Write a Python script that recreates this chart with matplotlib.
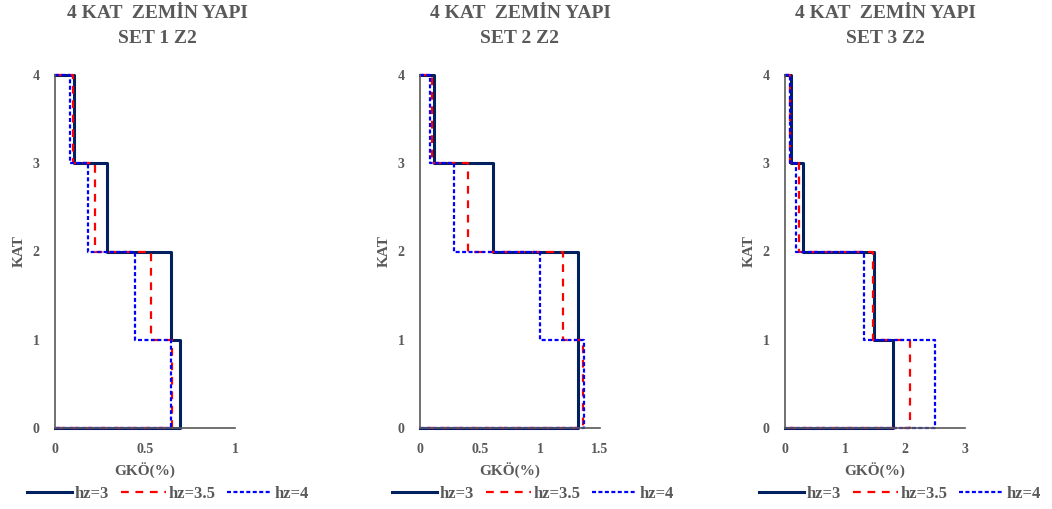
import numpy as np
import matplotlib.pyplot as plt

plt.rcParams['font.family'] = ['Liberation Serif', 'DejaVu Serif']
plt.rcParams['font.weight'] = 'bold'
plt.rcParams['axes.labelweight'] = 'bold'

gray = '#595959'

# story levels (KAT), from top to bottom
kat = [4, 3, 2, 1]

# GKO(%) per story, order: kat 4, 3, 2, 1
set1 = {
    'hz=3':   [0.106, 0.287, 0.644, 0.696],
    'hz=3.5': [0.098, 0.222, 0.531, 0.652],
    'hz=4':   [0.085, 0.185, 0.446, 0.643],
}
set2 = {
    'hz=3':   [0.117, 0.608, 1.319, 1.313],
    'hz=3.5': [0.100, 0.399, 1.193, 1.358],
    'hz=4':   [0.086, 0.287, 1.004, 1.366],
}
set3 = {
    'hz=3':   [0.100, 0.306, 1.483, 1.794],
    'hz=3.5': [0.089, 0.228, 1.461, 2.083],
    'hz=4':   [0.083, 0.183, 1.311, 2.494],
}
sets = [set1, set2, set3]
titles = ['4 KAT  ZEMİN YAPI\nSET 1 Z2', '4 KAT  ZEMİN YAPI\nSET 2 Z2', '4 KAT  ZEMİN YAPI\nSET 3 Z2']
xmax = [1, 1.5, 3]
xticks = [[0, 0.5, 1], [0, 0.5, 1, 1.5], [0, 1, 2, 3]]
xticklabels = [['0', '0.5', '1'], ['0', '0.5', '1', '1.5'], ['0', '1', '2', '3']]

styles = {
    'hz=3':   dict(color='#002060', lw=2.2, ls='-'),
    'hz=3.5': dict(color='#FF0000', lw=1.6, ls=(0, (3.5, 3))),
    'hz=4':   dict(color='#0000FF', lw=1.6, ls=(0, (1.8, 1.1))),
}

W, H = 1052, 509
fig = plt.figure(figsize=(W / 100, H / 100), dpi=100)

lefts = [55, 420, 785]
title_x = [157, 520, 885]
legend_x = [168, 533, 900]
top, bottom, width = 75, 428, 180


def step_path(vals):
    xs, ys = [0], [kat[0]]
    for k, v in zip(kat, vals):
        xs += [v, v]
        ys += [k, k - 1]
    xs.append(0)
    ys.append(0)
    return xs, ys


for i in range(3):
    ax = fig.add_axes([lefts[i] / W, 1 - bottom / H, width / W, (bottom - top) / H])
    for name, vals in sets[i].items():
        xs, ys = step_path(vals)
        ax.plot(xs, ys, label=name, **styles[name])
    ax.set_xlim(0, xmax[i])
    ax.set_ylim(0, 4)
    ax.set_xticks(xticks[i])
    ax.set_xticklabels(xticklabels[i])
    ax.set_yticks([0, 1, 2, 3, 4])
    for s in ['top', 'right']:
        ax.spines[s].set_visible(False)
    for s in ['left', 'bottom']:
        ax.spines[s].set_color(gray)
        ax.spines[s].set_linewidth(1.2)
    ax.tick_params(axis='x', length=0, labelsize=10, labelcolor=gray, pad=11)
    ax.tick_params(axis='y', length=0, labelsize=10, labelcolor=gray, pad=11)
    ax.set_xlabel('GKÖ(%)', fontsize=11, color=gray, labelpad=5)
    ax.set_ylabel('KAT', fontsize=11, color=gray, labelpad=5)
    for ln in ax.lines:
        ln.set_clip_on(False)
    fig.text(title_x[i] / W, 1 - 5 / H, titles[i], ha='center', va='top',
             fontsize=14, fontweight='bold', color=gray, linespacing=1.6)
    ax.legend(loc='center', bbox_to_anchor=(legend_x[i] / W, 1 - 494 / H),
              bbox_transform=fig.transFigure, ncol=3, frameon=False,
              prop={'size': 12, 'weight': 'bold'}, labelcolor=gray,
              handlelength=2.7, handletextpad=0.15, columnspacing=0.7)

fig.savefig('out.png', dpi=100)
